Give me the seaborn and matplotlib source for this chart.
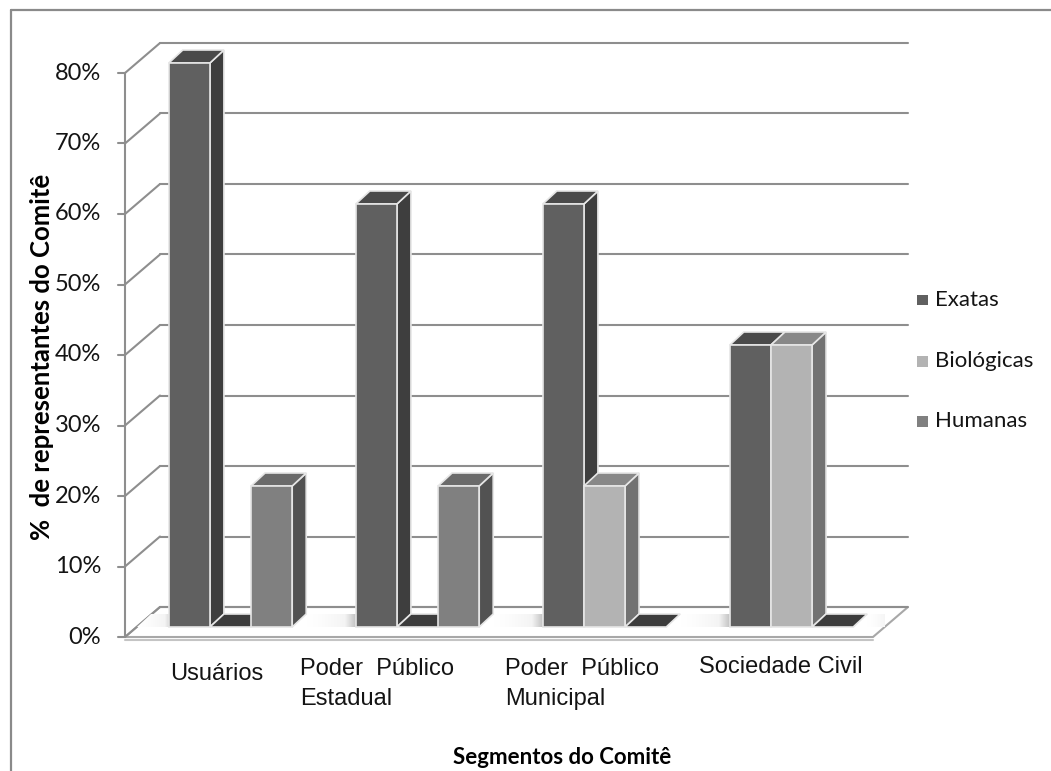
import matplotlib
matplotlib.use("Agg")
import matplotlib.pyplot as plt
from matplotlib.patches import Polygon
from matplotlib.lines import Line2D
from matplotlib.colors import LinearSegmentedColormap, to_rgb
import numpy as np
import pandas as pd
import seaborn as sns

# ---- data -------------------------------------------------------------
categories = ["Usuários", "Poder  Público\nEstadual", "Poder  Público\nMunicipal", "Sociedade Civil"]
series = ["Exatas", "Biológicas", "Humanas"]
exatas = [80, 60, 60, 40]
biologicas = [0, 0, 20, 40]
humanas = [20, 20, 0, 0]
y_ticks = [0, 10, 20, 30, 40, 50, 60, 70, 80]
y_tick_labels = [f"{t}%" for t in y_ticks]
x_title = "Segmentos do Comitê"
y_title = "%  de representantes do Comitê"

# ---- style ------------------------------------------------------------
front_colors = {"Exatas": "#606060", "Biológicas": "#b3b3b3", "Humanas": "#808080"}
top_colors = {"Exatas": "#4a4a4a", "Biológicas": "#888888", "Humanas": "#6b6b6b"}
side_colors = {"Exatas": "#3e3e3e", "Biológicas": "#727272", "Humanas": "#525252"}
zero_color = "#3c3c3c"
edge_color = "#e6e6e6"
grid_color = "#8e8e8e"
text_color = "#141414"

W, H, DPI = 1051, 771, 100

sns.set_theme(style="white")
plt.rcParams["font.family"] = ["Lato", "DejaVu Sans"]

fig = plt.figure(figsize=(W / DPI, H / DPI), dpi=DPI)
fig.patch.set_facecolor("white")


def fx(x):
    return x / W


def fy(y):
    return 1 - y / H


# plane of the bar fronts (pixel box inside the figure)
PLANE_L, PLANE_R = 137, 885
PLANE_B, PLANE_T = 627, 63
ax = fig.add_axes([fx(PLANE_L), fy(PLANE_B), (PLANE_R - PLANE_L) / W, (PLANE_B - PLANE_T) / H])

PX_X = (PLANE_R - PLANE_L) / 4.0
PX_Y = (PLANE_B - PLANE_T) / 80.0


def off(dx_px, dy_px):
    return dx_px / PX_X, dy_px / PX_Y


FRONT = off(-12, -10)   # front edge of the floor / value axis
BACK = off(23, 20)      # back wall
DEPTH = off(14, 13)     # depth of each bar

# ---- bars -------------------------------------------------------------
df = pd.DataFrame({
    "segmento": np.tile(categories, len(series)),
    "area": np.repeat(series, len(categories)),
    "valor": exatas + biologicas + humanas,
})
sns.barplot(data=df, x="segmento", y="valor", hue="area", order=categories,
            hue_order=series, palette=front_colors, width=0.66, saturation=1,
            edgecolor=edge_color, linewidth=1.2, errorbar=None, legend=False, ax=ax)

XMIN, XMAX = -0.5, 3.5
ax.set_xlim(XMIN, XMAX)
ax.set_ylim(0, 80)
ax.set_axis_off()

# floor slab
fl = [(XMIN + FRONT[0], FRONT[1]), (XMAX + FRONT[0], FRONT[1]),
      (XMAX + BACK[0], BACK[1]), (XMIN + BACK[0], BACK[1])]
ax.add_patch(Polygon(fl, closed=True, fc="white", ec="#a8a8a8", lw=1.5,
                     zorder=1, clip_on=False))
slab = off(0, -3)
ax.add_line(Line2D([XMIN + FRONT[0], XMAX + FRONT[0]], [FRONT[1] + slab[1]] * 2,
                   color="#c4c4c4", lw=1.5, zorder=1, clip_on=False))

# back wall gridlines, side wall diagonals, value axis
for t in y_ticks:
    ax.add_line(Line2D([XMIN + BACK[0], XMAX + BACK[0]], [t + BACK[1]] * 2,
                       color=grid_color, lw=1.5, zorder=2, clip_on=False))
    ax.add_line(Line2D([XMIN + FRONT[0], XMIN + BACK[0]], [t + FRONT[1], t + BACK[1]],
                       color=grid_color, lw=1.5, zorder=2, clip_on=False))
    tick = off(-7, 0)
    ax.add_line(Line2D([XMIN + FRONT[0] + tick[0], XMIN + FRONT[0]], [t + FRONT[1]] * 2,
                       color=grid_color, lw=1.5, zorder=2, clip_on=False))
ax.add_line(Line2D([XMIN + FRONT[0]] * 2, [FRONT[1], 80 + FRONT[1]],
                   color=grid_color, lw=1.5, zorder=2, clip_on=False))

# soft shading on the floor between the bar groups
shade_cmap = LinearSegmentedColormap.from_list("floor", ["#ffffff", "#f4f4f4", "#7c7c7c"])
bar_patches = sorted(ax.patches[:len(series) * len(categories)], key=lambda p: p.get_x())
bw = bar_patches[0].get_width()
group_starts = [bar_patches[3 * g].get_x() for g in range(len(categories))]
group_ends = [bar_patches[3 * g + 2].get_x() + bw for g in range(len(categories))]
dx, dy = DEPTH
gaps = []
prev_end = XMIN
for g in range(len(categories)):
    gaps.append((prev_end, group_starts[g]))
    prev_end = group_ends[g] + dx
gaps.append((prev_end, XMAX))
grad = np.linspace(0, 1, 128)[None, :] ** 1.4
for a, b in gaps:
    a_top = a if a > XMIN else XMIN + dx
    poly = Polygon([(a, 0), (b, 0), (b + dx, dy), (a_top, dy)], closed=True,
                   transform=ax.transData)
    im = ax.imshow(grad, extent=(a, b + dx, 0, dy), cmap=shade_cmap, aspect="auto",
                   origin="lower", zorder=3, interpolation="bilinear")
    im.set_clip_path(poly)
ax.set_xlim(XMIN, XMAX)
ax.set_ylim(0, 80)

# 3D faces of the bars, drawn left to right
for i, p in enumerate(bar_patches):
    z = 10 + i
    rgb = to_rgb(p.get_facecolor())
    name = min(front_colors, key=lambda n: sum((a - b) ** 2 for a, b in
                                                 zip(to_rgb(front_colors[n]), rgb)))
    x0, w, h = p.get_x(), p.get_width(), p.get_height()
    p.set_zorder(z)
    p.set_clip_on(False)
    if h <= 0:
        p.set_linewidth(0)
        ax.add_patch(Polygon([(x0, 0), (x0 + w, 0), (x0 + w + dx, dy), (x0 + dx, dy)],
                             closed=True, fc=zero_color, ec=edge_color, lw=1.2,
                             zorder=z + 0.5, clip_on=False))
        continue
    ax.add_patch(Polygon([(x0 + w, 0), (x0 + w, h), (x0 + w + dx, h + dy), (x0 + w + dx, dy)],
                         closed=True, fc=side_colors[name], ec=edge_color, lw=1.2,
                         zorder=z - 0.2, clip_on=False))
    ax.add_patch(Polygon([(x0, h), (x0 + w, h), (x0 + w + dx, h + dy), (x0 + dx, h + dy)],
                         closed=True, fc=top_colors[name], ec=edge_color, lw=1.2,
                         zorder=z - 0.1, clip_on=False))

# ---- text ---------------------------------------------------------------
for t, lab in zip(y_ticks, y_tick_labels):
    ypx = 637 - t * 7.05
    fig.text(fx(101), fy(ypx), lab, ha="right", va="center", fontsize=17,
             color=text_color)

label_pos = [(217, 680, "center"), (300, 675, "left"), (505, 675, "left"), (699, 673, "left")]
for lab, (xp, yp, ha) in zip(categories, label_pos):
    for k, line in enumerate(lab.split("\n")):
        fig.text(fx(xp), fy(yp + 30 * k), line, ha=ha, va="baseline", fontsize=17,
                 family="Liberation Sans", color=text_color)

fig.text(fx(562), fy(757), x_title, ha="center", va="center", fontsize=16,
         fontweight="bold", color="black")
fig.text(fx(42), fy(357), y_title, ha="center", va="center", fontsize=18.5,
         fontweight="bold", rotation=90, color="black")

# legend
for k, name in enumerate(series):
    yc = [300, 361, 421][k]
    fig.patches.append(plt.Rectangle((fx(917), fy(yc + 5.5)), 11 / W, 11 / H,
                                     transform=fig.transFigure, fc=front_colors[name],
                                     ec="none", figure=fig))
    fig.text(fx(935), fy(yc), name, ha="left", va="center", fontsize=16,
             color=text_color)

# chart frame
fig.add_artist(Line2D([fx(11), fx(11)], [fy(10), fy(H + 5)], transform=fig.transFigure,
                      color="#8a8a8a", lw=1.6))
fig.add_artist(Line2D([fx(11), fx(W + 5)], [fy(10), fy(10)], transform=fig.transFigure,
                      color="#8a8a8a", lw=1.6))

fig.savefig("out.png", dpi=DPI, facecolor="white")
